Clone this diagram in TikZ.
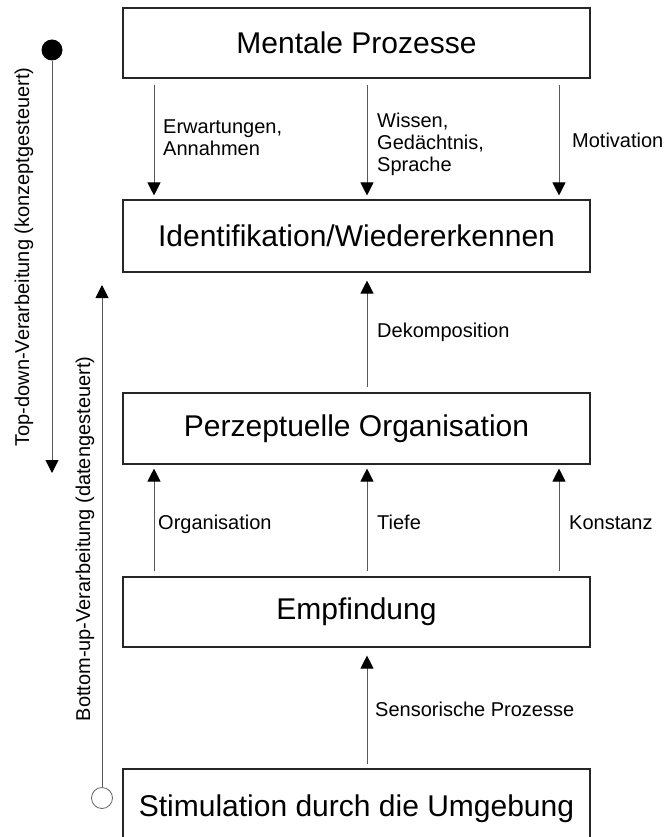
\documentclass[tikz,border=0pt]{standalone}
\usepackage{fontspec}
\setmainfont{Liberation Sans}
\usetikzlibrary{arrows.meta}
\begin{document}
\begin{tikzpicture}[x=1pt,y=-1pt,
  stage/.style={draw=black!85, line width=1.1pt, minimum width=467pt, inner sep=0pt,
    font=\fontsize{30}{34}\selectfont},
  lbl/.style={anchor=west, inner sep=0pt, align=left,
    font=\fontsize{20}{22}\selectfont},
  one/.style={lbl, text height=14.5pt, text depth=4.2pt},
  side/.style={inner sep=0pt, rotate=90, font=\fontsize{20}{22}\selectfont},
  arr/.style={draw=black!65, line width=1pt, -{Triangle[width=13pt,length=13pt,fill=black,color=black]}}
]
\useasboundingbox (0,0) rectangle (665,837);
\clip (0,0) rectangle (665,837);
\fill[white] (0,0) rectangle (665,837);

% boxes
\node[stage, minimum height=70pt] (b1) at (356.5,43) {Mentale Prozesse};
\node[stage, minimum height=72pt] (b2) at (356.5,236) {Identifikation/Wiedererkennen};
\node[stage, minimum height=71pt] (b3) at (356.5,428.5) {Perzeptuelle Organisation};
\node[stage, minimum height=70pt] (b4) at (356.5,612) {Empfindung};
\node[stage, minimum height=80pt] (b5) at (356.5,809) {Stimulation durch die Umgebung};

% arrow columns
\coordinate (xl) at (154,0);
\coordinate (xm) at (367,0);
\coordinate (xr) at (559,0);

% top-down arrows
\draw[arr, shorten <=6pt, shorten >=4pt] (b1.south -| xl) -- (b2.north -| xl);
\draw[arr, shorten <=6pt, shorten >=4pt] (b1.south -| xm) -- (b2.north -| xm);
\draw[arr, shorten <=6pt, shorten >=4pt] (b1.south -| xr) -- (b2.north -| xr);

% bottom-up arrows
\draw[arr, shorten <=5pt, shorten >=8pt] (b3.north -| xm) -- (b2.south -| xm);
\draw[arr, shorten <=5pt, shorten >=4pt] (b4.north -| xl) -- (b3.south -| xl);
\draw[arr, shorten <=5pt, shorten >=4pt] (b4.north -| xm) -- (b3.south -| xm);
\draw[arr, shorten <=5pt, shorten >=4pt] (b4.north -| xr) -- (b3.south -| xr);
\draw[arr, shorten <=4pt, shorten >=8pt] (b5.north -| xm) -- (b4.south -| xm);

% labels
\node[lbl] (l1) at (163,138) {Erwartungen,\\Annahmen};
\node[lbl] (l2) at (377,144) {Wissen,\\Gedächtnis,\\Sprache};
\node[one] (l3) at (572,142) {Motivation};
\node[one] (l4) at (377,332) {Dekomposition};
\node[one] (l5) at (158,524) {Organisation};
\node[one] (l6) at (377,524) {Tiefe};
\node[one] (l7) at (569,524) {Konstanz};
\node[one] (l8) at (375,711) {Sensorische Prozesse};

% left side: top-down
\node[circle, fill=black, minimum size=21pt, inner sep=0pt] (td) at (52,50) {};
\coordinate (tdend) at (52,473);
\draw[arr] (td.south) -- (tdend);
\node[side] (tdl) at (24,257) {Top-down-Verarbeitung (konzeptgesteuert)};

% left side: bottom-up
\node[circle, draw=black!60, fill=white, line width=0.8pt, minimum size=21pt, inner sep=0pt] (bu) at (102,798) {};
\coordinate (buend) at (102,285);
\draw[arr] (bu.north) -- (buend);
\node[side] (bul) at (85,539) {Bottom-up-Verarbeitung (datengesteuert)};
\end{tikzpicture}
\end{document}
